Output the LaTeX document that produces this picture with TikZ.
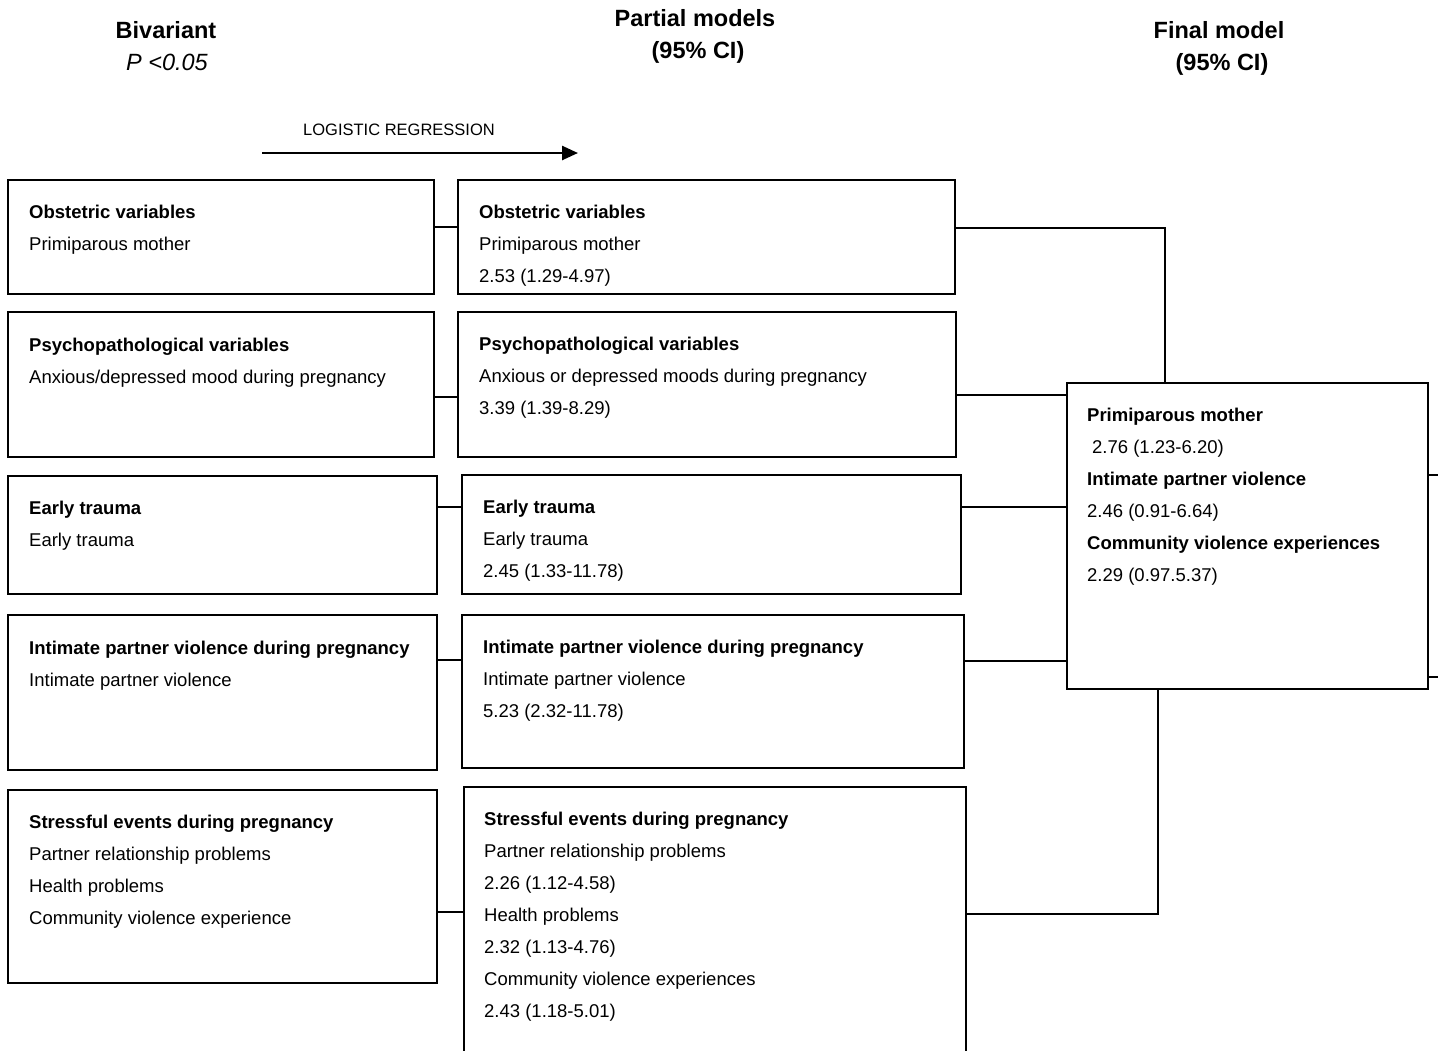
\documentclass[tikz,border=0pt]{standalone}
\usepackage{fontspec}
\setmainfont{Liberation Sans}
\usetikzlibrary{arrows.meta}
\tikzset{
  box/.style={draw, line width=2pt, inner sep=0pt, outer sep=0pt, anchor=north west},
  txt/.style={anchor=north west, inner sep=0pt, align=left, font=\fontsize{18.5}{32}\selectfont},
  head/.style={anchor=base, inner sep=0pt, font=\bfseries\fontsize{23.5}{28}\selectfont},
  conn/.style={line width=2pt},
}
\newcommand{\fl}{\rule{0pt}{14pt}}
\begin{document}
\begin{tikzpicture}[x=1pt,y=-1pt]
\useasboundingbox (0,0) rectangle (1438,1050);
\clip (0,0) rectangle (1438,1050);
\fill[white] (0,0) rectangle (1438,1050);
% headers
\node[head] (h1) at (166,38.5) {Bivariant};
\node[head, font=\itshape\fontsize{23.5}{28}\selectfont] (h1b) at (167,70) {P <0.05};
\node[head] (h2) at (695,26.5) {Partial models};
\node[head] (h2b) at (698,58.5) {(95\% CI)};
\node[head] (h3) at (1219,38.5) {Final model};
\node[head] (h3b) at (1222,70) {(95\% CI)};
% logistic regression arrow
\node[anchor=base, inner sep=0pt, font=\fontsize{16.5}{20}\selectfont] (lr) at (399,135) {LOGISTIC REGRESSION};
\coordinate (a1) at (262,153);
\coordinate (a2) at (578,153);
\draw[line width=2.5pt, -{Triangle[length=16pt,width=14pt]}] (a1) -- (a2);
% left column
\node[box, minimum width=426pt, minimum height=114pt] (L1) at (8,180) {};
\node[box, minimum width=426pt, minimum height=145pt] (L2) at (8,312) {};
\node[box, minimum width=429pt, minimum height=118pt] (L3) at (8,476) {};
\node[box, minimum width=429pt, minimum height=155pt] (L4) at (8,615) {};
\node[box, minimum width=429pt, minimum height=193pt] (L5) at (8,790) {};
% middle column
\node[box, minimum width=497pt, minimum height=114pt] (M1) at (458,180) {};
\node[box, minimum width=498pt, minimum height=145pt] (M2) at (458,312) {};
\node[box, minimum width=499pt, minimum height=119pt] (M3) at (462,475) {};
\node[box, minimum width=502pt, minimum height=153pt] (M4) at (462,615) {};
\node[box, minimum width=502pt, minimum height=300pt] (M5) at (464,787) {};
% final
\node[box, minimum width=361pt, minimum height=306pt] (F) at (1067,383) {};
% texts
\node[txt] (L1t) at (29,204) {\fl\textbf{Obstetric variables}\\Primiparous mother};
\node[txt] (L2t) at (29,337) {\fl\textbf{Psychopathological variables}\\Anxious/depressed mood during pregnancy};
\node[txt] (L3t) at (29,500) {\fl\textbf{Early trauma}\\Early trauma};
\node[txt] (L4t) at (29,640) {\fl\textbf{Intimate partner violence during pregnancy}\\Intimate partner violence};
\node[txt] (L5t) at (29,814) {\fl\textbf{Stressful events during pregnancy}\\Partner relationship problems\\Health problems\\Community violence experience};
\node[txt] (M1t) at (479,204) {\fl\textbf{Obstetric variables}\\Primiparous mother\\2.53 (1.29-4.97)};
\node[txt] (M2t) at (479,336) {\fl\textbf{Psychopathological variables}\\Anxious or depressed moods during pregnancy\\3.39 (1.39-8.29)};
\node[txt] (M3t) at (483,499) {\fl\textbf{Early trauma}\\Early trauma\\2.45 (1.33-11.78)};
\node[txt] (M4t) at (483,639) {\fl\textbf{Intimate partner violence during pregnancy}\\Intimate partner violence\\5.23 (2.32-11.78)};
\node[txt] (M5t) at (484,811) {\fl\textbf{Stressful events during pregnancy}\\Partner relationship problems\\2.26 (1.12-4.58)\\Health problems\\2.32 (1.13-4.76)\\Community violence experiences\\2.43 (1.18-5.01)};
\node[txt] (Ft) at (1087,407) {\fl\textbf{Primiparous mother}\\\hspace*{5pt}2.76 (1.23-6.20)\\\textbf{Intimate partner violence}\\2.46 (0.91-6.64)\\\textbf{Community violence experiences}\\2.29 (0.97.5.37)};
% connectors left -> middle
\draw[conn] ([yshift=-47pt]L1.north east) coordinate (c1) -- (c1 -| M1.west);
\draw[conn] ([yshift=-85pt]L2.north east) coordinate (c2) -- (c2 -| M2.west);
\draw[conn] ([yshift=-31pt]L3.north east) coordinate (c3) -- (c3 -| M3.west);
\draw[conn] ([yshift=-45pt]L4.north east) coordinate (c4) -- (c4 -| M4.west);
\draw[conn] ([yshift=-122pt]L5.north east) coordinate (c5) -- (c5 -| M5.west);
% connectors middle -> final
\draw[conn] ([yshift=-48pt]M1.north east) -| ([xshift=98pt]F.north west);
\draw[conn] ([yshift=-83pt]M2.north east) coordinate (d2) -- (d2 -| F.west);
\draw[conn] ([yshift=-32pt]M3.north east) coordinate (d3) -- (d3 -| F.west);
\draw[conn] ([yshift=-46pt]M4.north east) coordinate (d4) -- (d4 -| F.west);
\draw[conn] ([yshift=-127pt]M5.north east) -| ([xshift=91pt]F.south west);
% outgoing from final
\coordinate (o1) at (1450,475);
\coordinate (o2) at (1450,677);
\draw[conn] ([yshift=-92pt]F.north east) -- (o1);
\draw[conn] ([yshift=-294pt]F.north east) -- (o2);
\end{tikzpicture}
\end{document}
